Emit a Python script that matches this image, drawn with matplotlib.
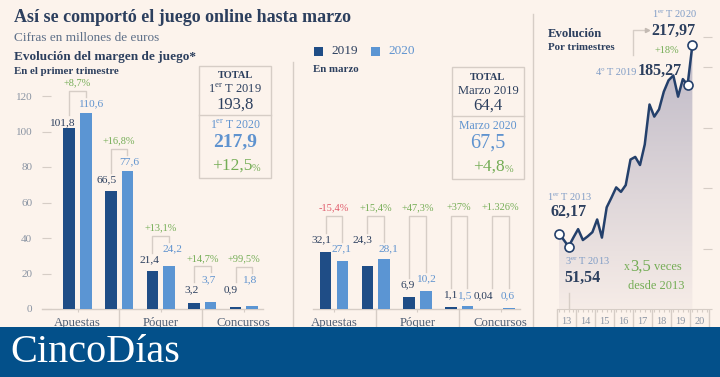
import numpy as np
import matplotlib
matplotlib.use("Agg")
import matplotlib.pyplot as plt
from matplotlib.patches import Rectangle, Polygon
from matplotlib.lines import Line2D
from matplotlib.colors import LinearSegmentedColormap

plt.rcParams['font.family'] = ['Liberation Serif', 'DejaVu Serif']
plt.rcParams['mathtext.fontset'] = 'custom'
plt.rcParams['mathtext.rm'] = 'Liberation Serif'
plt.rcParams['mathtext.bf'] = 'Liberation Serif:bold'

# ---------------- data ----------------
cat_labels = ['Apuestas', 'Póquer', 'Concursos']
q1_2019 = [101.8, 66.5, 21.4, 3.2, 0.9]
q1_2020 = [110.6, 77.6, 24.2, 3.7, 1.8]
q1_change = ['+8,7%', '+16,8%', '+13,1%', '+14,7%', '+99,5%']
mar_2019 = [32.1, 24.3, 6.9, 1.1, 0.04]
mar_2020 = [27.1, 28.1, 10.2, 1.5, 0.6]
mar_change = ['-15,4%', '+15,4%', '+47,3%', '+37%', '+1.326%']
q1_totals = ['193,8', '217,9', '+12,5']
mar_totals = ['64,4', '67,5', '+4,8']
quarterly = [62.17, 57, 51.54, 59, 66, 57, 60, 63.5, 74, 59, 84, 92, 100.5, 96.8,
             102.4, 123.5, 125.7, 119, 136, 169, 159, 165, 179.6, 189, 193, 175.5,
             190, 185.27, 217.97]
year_labels = ['13', '14', '15', '16', '17', '18', '19', '20']
y_ticks_q1 = [0, 20, 40, 60, 80, 100, 120]

# ---------------- style ----------------
BG = '#fcf3ec'
C19 = '#1f4d86'
C20 = '#5b95d3'
NAVY = '#2c3f5e'
LBLUE = '#5f93cf'
GREEN = '#74ad55'
RED = '#e05a6a'
GRID = '#d6cdc6'
GRAYTXT = '#8a94a3'
CATTXT = '#4f5e74'
FOOT = '#03508a'

W, H = 720, 377
fig = plt.figure(figsize=(7.2, 3.77), dpi=100)
fig.patch.set_facecolor(BG)

def fx(x):
    return x / W

def fy(y):
    return 1 - y / H

def ftext(x, y, s, **kw):
    kw.setdefault('va', 'center')
    return fig.text(fx(x), fy(y), s, **kw)

def fline(xs, ys, **kw):
    fig.add_artist(Line2D([fx(v) for v in xs], [fy(v) for v in ys],
                          transform=fig.transFigure, **kw))

# ---------------- headings ----------------
ftext(14, 17, 'Así se comportó el juego online hasta marzo', fontsize=13,
      fontweight='bold', color=NAVY)
ftext(14, 38, 'Cifras en millones de euros', fontsize=9.5, color='#5d6f88')
ftext(14, 57, 'Evolución del margen de juego*', fontsize=9.5, fontweight='bold', color=NAVY)
ftext(14, 71, 'En el primer trimestre', fontsize=7.8, fontweight='bold', color=NAVY)
ftext(313, 69, 'En marzo', fontsize=7.8, fontweight='bold', color=NAVY)

# legend
fig.add_artist(Rectangle((fx(314), fy(56)), 9 / W, 9 / H, transform=fig.transFigure,
                         color=C19, lw=0))
ftext(331, 51, '2019', fontsize=9.5, color=NAVY)
fig.add_artist(Rectangle((fx(371), fy(56)), 9 / W, 9 / H, transform=fig.transFigure,
                         color=C20, lw=0))
ftext(388, 51, '2020', fontsize=9.5, color=LBLUE)

# panel separators
fline([293, 293], [62, 330], color=GRID, lw=1)
fline([533, 533], [14, 330], color=GRID, lw=1)

# ---------------- bar panels ----------------
S = 1.775          # px per unit
BASE = 309         # baseline y px
TOP = 80


def fmt(v):
    return f'{v:g}'.replace('.', ',')


def bar_panel(left, right, c0, spacing, v19, v20, changes, off19, off20, dx19, dx20,
              uniform_bracket, yaxis):
    ax = fig.add_axes([fx(left), fy(BASE), (right - left) / W, (BASE - TOP) / H])
    ax.set_facecolor('none')
    ax.set_xlim(-(c0 - left) / spacing, (right - c0) / spacing)
    ax.set_ylim(0, (BASE - TOP) / S)
    x = np.arange(len(v19))
    ax.bar(x - 0.2, v19, width=0.28, color=C19, zorder=3)
    ax.bar(x + 0.2, v20, width=0.28, color=C20, zorder=3)
    for s in ['top', 'right', 'left']:
        ax.spines[s].set_visible(False)
    ax.spines['bottom'].set_color(GRID)
    ax.spines['bottom'].set_linewidth(1)
    ax.set_xticks([0, 2, 4])
    ax.tick_params(axis='x', length=3 * 0.72, color=GRID, labelbottom=False)
    if yaxis:
        ax.set_yticks(y_ticks_q1)
        ax.tick_params(axis='y', direction='in', length=9 * 0.72, color=GRID,
                       labelsize=8, labelcolor=GRAYTXT, pad=7)
    else:
        ax.set_yticks([])

    lab19 = [v + o / S for v, o in zip(v19, off19)]
    lab20 = [v + o / S for v, o in zip(v20, off20)]
    top_all = max(lab19 + lab20) + 24 / S
    for i in range(len(v19)):
        ax.annotate(fmt(v19[i]), xy=(i - 0.2, v19[i]), xytext=(dx19[i] * 0.72, off19[i] * 0.72),
                    textcoords='offset points', ha='center', va='center', fontsize=8.2,
                    color=NAVY, annotation_clip=False)
        ax.annotate(fmt(v20[i]), xy=(i + 0.2, v20[i]), xytext=(dx20[i] * 0.72, off20[i] * 0.72),
                    textcoords='offset points', ha='center', va='center', fontsize=8.2,
                    color=LBLUE, annotation_clip=False)
        btop = top_all if uniform_bracket else max(lab19[i], lab20[i]) + 13 / S
        ax.plot([i - 0.2, i - 0.2, i + 0.2, i + 0.2],
                [lab19[i] + 7 / S, btop, btop, lab20[i] + 7 / S],
                color=GRID, lw=1, clip_on=False, zorder=2)
        col = RED if changes[i].startswith('-') else GREEN
        ax.text(i, btop + 8 / S, changes[i], ha='center', va='center', fontsize=7.5,
                color=col)
    # category axis
    for sx in [1, 3]:
        ax.plot([sx, sx], [0, -20 / S], color=GRID, lw=1, clip_on=False)
    for k, lab in enumerate(cat_labels):
        ax.text(2 * k, -14 / S, lab, ha='center', va='center', fontsize=9.2,
                color=CATTXT, clip_on=False)
    return ax


bar_panel(42, 263, 77.5, 41.6, q1_2019, q1_2020, q1_change,
          off19=[6, 11, 11, 14, 18], off20=[9, 9, 17, 23, 26],
          dx19=[-7, -4, -3, -2, -5], dx20=[5, 2, 3, -2, -3],
          uniform_bracket=False, yaxis=True)
bar_panel(313, 520, 334, 41.7, mar_2019, mar_2020, mar_change,
          off19=[12, 26, 12, 12, 13.5], off20=[12, 10, 12, 11, 12.5],
          dx19=[-4, -5, -1, -1, -9], dx20=[-1, 4, 0, -3, -1],
          uniform_bracket=True, yaxis=False)

# ---------------- total boxes ----------------
def total_box(x0, x1, y0, ydiv, y1, lab1, lab2, totals, bold2, big_fs):
    cx = (x0 + x1) / 2
    fig.add_artist(Rectangle((fx(x0), fy(y1)), (x1 - x0) / W, (y1 - y0) / H,
                             transform=fig.transFigure, fill=False, ec=GRID, lw=1))
    fline([x0, x1], [ydiv, ydiv], color=GRID, lw=1)
    ftext(cx, y0 + 10, 'TOTAL', fontsize=7.5, fontweight='bold', color=NAVY, ha='center')
    ftext(cx, y0 + 23.5, lab1, fontsize=9, color=NAVY, ha='center')
    ftext(cx, y0 + 38.5, totals[0], fontsize=12, color=NAVY, ha='center')
    ftext(cx, ydiv + 10, lab2, fontsize=8.5, color=LBLUE, ha='center')
    ftext(cx, ydiv + 27, totals[1], fontsize=big_fs, color=LBLUE, ha='center',
          fontweight='bold' if bold2 else 'normal')
    ftext(cx + 17, ydiv + 51, totals[2], fontsize=12.5, color=GREEN, ha='right')
    ftext(cx + 17, ydiv + 53, '%', fontsize=7.5, color=GREEN, ha='left')


total_box(199, 271, 66, 115, 178, r'1$^{\mathrm{er}}$ T 2019', r'1$^{\mathrm{er}}$ T 2020',
          q1_totals, True, 14)
total_box(452, 524, 67, 116, 179, 'Marzo 2019', 'Marzo 2020', mar_totals, False, 14.5)

# ---------------- quarterly line panel ----------------
L0, R0, T0 = 556.7, 703, 15
QPX = 4.76
YS = 1.21
ax3 = fig.add_axes([fx(L0), fy(BASE), (R0 - L0) / W, (BASE - T0) / H])
ax3.set_facecolor('none')
xs = np.arange(len(quarterly))
verts = [(0, 0)] + list(zip(xs, quarterly)) + [(xs[-1], 0)]
poly = Polygon(verts, closed=True, facecolor='none', edgecolor='none')
ax3.add_patch(poly)
cmap = LinearSegmentedColormap.from_list('g', ['#f6ece7', '#bdb8c6'])
grad = np.linspace(0, 1, 256).reshape(-1, 1)
im = ax3.imshow(grad, extent=[0, xs[-1], 0, 225], origin='lower', aspect='auto',
                cmap=cmap, zorder=1)
im.set_clip_path(poly)
ax3.plot(xs, quarterly, color='#24406b', lw=1.8, zorder=3)
mk = [0, 2, 27, 28]
ax3.plot(xs[mk], [quarterly[i] for i in mk], 'o', ms=6.5, mfc='white', mec='#24406b',
         mew=1.2, zorder=4, clip_on=False)
ax3.set_xlim(-0.5, -0.5 + (R0 - L0) / QPX)
ax3.set_ylim(0, (BASE - T0) / YS)
for s in ['top', 'left', 'right']:
    ax3.spines[s].set_visible(False)
ax3.spines['bottom'].set_color(GRID)
ax3.set_xticks([])
ax3.yaxis.tick_right()
ax3.set_yticks([0, 50, 100, 150, 200, 225])
ax3.tick_params(axis='y', direction='out', length=9 * 0.72, color=GRID, labelright=False)
ax3.vlines(np.arange(32), -3 / YS, 0, color=GRID, lw=0.8, clip_on=False)
ax3.vlines(np.arange(9) * 4 - 0.5, -20 / YS, 0, color=GRID, lw=1, clip_on=False)
for k, lab in enumerate(year_labels):
    ax3.text(4 * k + 1.5, -13 / YS, lab, ha='center', va='center', fontsize=7.5,
             color=GRAYTXT, clip_on=False)
ax3.plot([2, 2], [0, 16 / YS], color=GRID, lw=1)


def qtext(i, dx, dy, s, **kw):
    kw.setdefault('va', 'center')
    ax3.annotate(s, xy=(i, quarterly[i]), xytext=(dx * 0.72, dy * 0.72),
                 textcoords='offset points', annotation_clip=False, **kw)


SMALL = '#7f9cc6'
qtext(28, 5, 31, r'1$^{\mathrm{er}}$ T 2020', fontsize=7.5, color=SMALL, ha='right')
qtext(28, 3, 14.5, fmt(quarterly[28]), fontsize=11.5, fontweight='bold', color=NAVY, ha='right')
qtext(28, -26, -5, '+18%', fontsize=7.5, color=GREEN, ha='center')
qtext(27, -5.5, 14, fmt(quarterly[27]), fontsize=11.5, fontweight='bold', color=NAVY, ha='right')
qtext(27, -51, 12.5, '4º T 2019', fontsize=7.5, color=SMALL, ha='right')
qtext(0, -12.5, 37, r'1$^{\mathrm{er}}$ T 2013', fontsize=7.5, color=SMALL, ha='left')
qtext(0, -9, 21.5, fmt(quarterly[0]), fontsize=11.5, fontweight='bold', color=NAVY, ha='left')
qtext(2, -4, -14.5, r'3$^{\mathrm{er}}$ T 2013', fontsize=7.5, color=SMALL, ha='left')
qtext(2, -4, -31.5, fmt(quarterly[2]), fontsize=11.5, fontweight='bold', color=NAVY, ha='left')

ftext(548, 34, 'Evolución', fontsize=9.2, fontweight='bold', color=NAVY)
ftext(548, 48, 'Por trimestres', fontsize=7.8, fontweight='bold', color=NAVY)
ftext(630, 267.5, 'x', fontsize=8.5, color=GREEN, ha='right')
ftext(630, 266.5, '3,5', fontsize=12, color=GREEN, ha='left')
ftext(654, 267.5, 'veces', fontsize=9, color=GREEN, ha='left')
ftext(684, 286, 'desde 2013', fontsize=9, color=GREEN, ha='right')
fline([633.3, 633.3, 647], [55, 30, 30], color=GRID, lw=1)
fig.add_artist(Line2D([fx(647)], [fy(30)], marker='>', ms=3, color='#c3bab3',
                      transform=fig.transFigure))

# ---------------- footer ----------------
axf = fig.add_axes([0, 0, 1, 50 / H], zorder=10)
axf.set_facecolor(FOOT)
axf.set_xticks([])
axf.set_yticks([])
for s in axf.spines.values():
    s.set_visible(False)
axf.text(10 / W, 0.5, 'CincoDías', transform=axf.transAxes, fontsize=29, color='white',
         va='center', ha='left')

fig.savefig('out.png', dpi=100, facecolor=BG)
